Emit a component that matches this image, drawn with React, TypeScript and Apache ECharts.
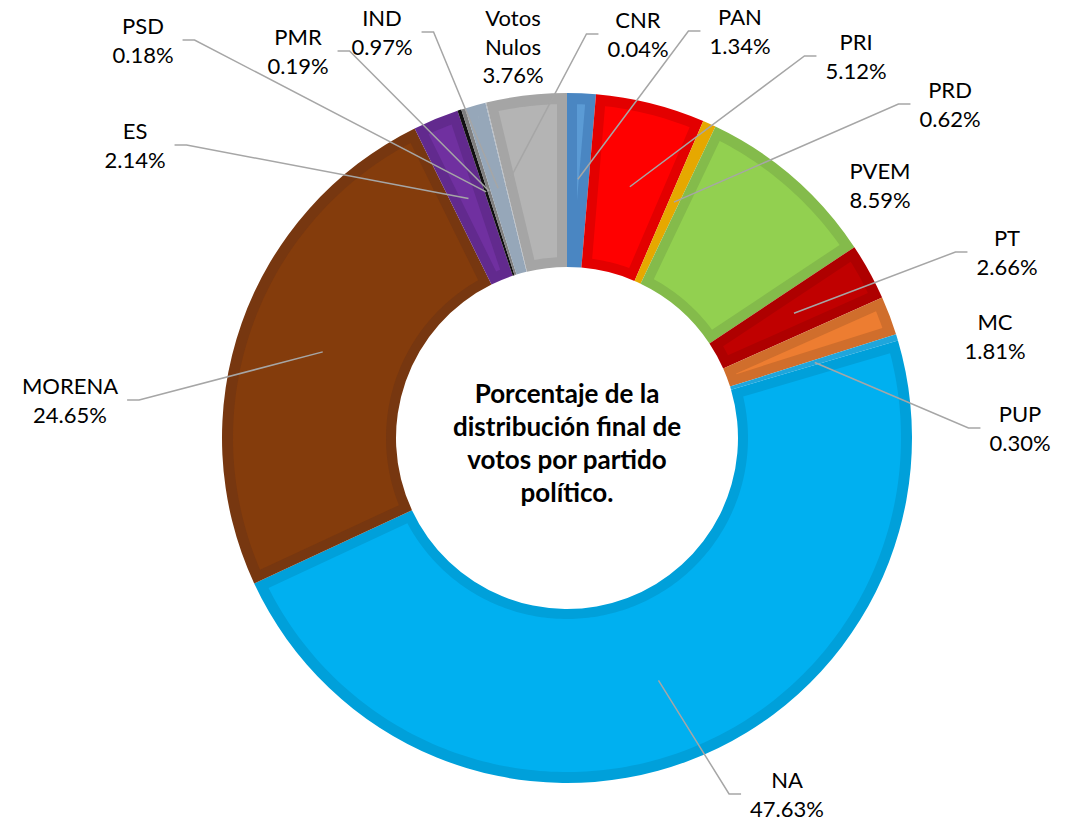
import React, { useEffect, useRef } from 'react';
import * as echarts from 'echarts';

const categories = ['PAN', 'PRI', 'PRD', 'PVEM', 'PT', 'MC', 'PUP', 'NA', 'MORENA', 'ES', 'PSD', 'PMR', 'IND', 'CNR', 'Votos Nulos'];
const values = [1.34, 5.12, 0.62, 8.59, 2.66, 1.81, 0.3, 47.63, 24.65, 2.14, 0.18, 0.19, 0.97, 0.04, 3.76];

const darkColors = ['#4A86C2', '#E30000', '#E6A800', '#84BB4B', '#AE0000', '#D06E2C', '#1FA6DC', '#00A0DA', '#773710', '#622A8E', '#111111', '#7F7F7F', '#96A7B9', '#B0B8C2', '#A5A5A5'];
const lightColors = ['#5B9BD5', '#FF0000', '#F0B000', '#92D050', '#C00000', '#ED7D31', '#5BC0EA', '#00B0F0', '#843C0C', '#7030A0', '#222222', '#8C8C8C', '#A3B2C4', '#B0B8C2', '#B4B4B4'];

const noLeaderLine = ['PVEM', 'MC', 'Votos Nulos'];

// label block centres (layout only)
const labelAnchors: [number, number][] = [
  [740, 31], [856, 56], [950, 104], [880, 185], [1007, 252], [995, 336], [1020, 428],
  [787, 794], [70, 400], [135, 145], [143, 40], [298, 51], [382, 32], [638, 34], [513, 46],
];

const centerTitle = 'Porcentaje de la\ndistribución final de\nvotos por partido\npolítico.';

const CX = 567;
const CY = 438;
const R0 = 171;
const R1 = 345;
const RMID = 259;
const GAP = 9;
const HOOK = 12;
const INSET = 10;

function titleGraphic() {
  return {
    id: 'title',
    type: 'text',
    x: CX,
    y: 442,
    z: 10,
    silent: true,
    style: {
      text: centerTitle,
      fontFamily: 'Lato',
      fontWeight: 'bold',
      fontSize: 26,
      lineHeight: 33,
      textAlign: 'center',
      textVerticalAlign: 'middle',
      fill: '#000000',
    },
  };
}

export default function App() {
  const ref = useRef<HTMLDivElement>(null);
  useEffect(() => {
    const chart = echarts.init(ref.current as HTMLDivElement, null, { renderer: 'svg' });
    const base = categories.map((name, i) => ({ name, value: values[i] }));
    chart.setOption({
      animation: false,
      backgroundColor: '#ffffff',
      graphic: [titleGraphic()],
      series: [
        {
          type: 'pie',
          z: 1,
          radius: [R0, R1],
          center: [CX, CY],
          silent: true,
          label: { show: false },
          labelLine: { show: false },
          itemStyle: { borderWidth: 0 },
          emphasis: { disabled: true },
          data: base.map((d, i) => ({ ...d, itemStyle: { color: darkColors[i] } })),
        },
        {
          type: 'pie',
          z: 3,
          radius: [R0, R1],
          center: [CX, CY],
          silent: true,
          avoidLabelOverlap: false,
          emphasis: { disabled: true },
          itemStyle: { borderWidth: 0, color: 'rgba(0,0,0,0)' },
          label: {
            show: true,
            position: 'outside',
            formatter: (p: any) => p.name.replace(' ', '\n') + '\n' + Number(p.value).toFixed(2) + '%',
            fontFamily: 'Lato',
            fontSize: 22,
            lineHeight: 28.5,
            color: '#000000',
            align: 'center',
          },
          labelLine: {
            show: true,
            showAbove: true,
            length: 10,
            length2: 10,
            lineStyle: { color: '#A6A6A6', width: 1.5 },
          },
          labelLayout: (params: any) => {
            const i = params.dataIndex;
            const [ax, ay] = labelAnchors[i];
            const w = params.labelRect.width;
            const res: any = { x: ax, y: ay, align: 'center', verticalAlign: 'middle' };
            const pts = params.labelLinePoints;
            if (pts && pts.length) {
              const dx = pts[0][0] - CX;
              const dy = pts[0][1] - CY;
              const len = Math.hypot(dx, dy) || 1;
              const sx = CX + (dx / len) * RMID;
              const sy = CY + (dy / len) * RMID;
              const right = ax > sx;
              const edge = right ? ax - w / 2 - GAP : ax + w / 2 + GAP;
              const bend = right ? edge - HOOK : edge + HOOK;
              res.labelLinePoints = [[sx, sy], [bend, ay], [edge, ay]];
            }
            return res;
          },
          data: base.map((d) => ({
            ...d,
            labelLine: { show: !noLeaderLine.includes(d.name) },
          })),
        },
      ],
    });

    // inner lighter panels, derived from the pie's own sector layout
    const polys: any[] = [];
    try {
      const data = (chart as any).getModel().getSeriesByIndex(0).getData();
      for (let i = 0; i < data.count(); i++) {
        const L = data.getItemLayout(i);
        if (!L) continue;
        const a0 = Math.min(L.startAngle, L.endAngle);
        const a1 = Math.max(L.startAngle, L.endAngle);
        const cx = L.cx;
        const cy = L.cy;
        const rin = L.r0 + INSET;
        const rout = L.r - INSET - 1;
        const half = (a1 - a0) / 2;
        const rStar = half < Math.PI / 2 ? INSET / Math.sin(half) : 0;
        if (rStar >= rout) continue;
        const pts: number[][] = [];
        const oa0 = a0 + Math.asin(INSET / rout);
        const oa1 = a1 - Math.asin(INSET / rout);
        const n = Math.max(2, Math.ceil(((oa1 - oa0) * 180) / Math.PI));
        for (let k = 0; k <= n; k++) {
          const a = oa0 + ((oa1 - oa0) * k) / n;
          pts.push([cx + rout * Math.cos(a), cy + rout * Math.sin(a)]);
        }
        if (rStar > rin) {
          const am = (a0 + a1) / 2;
          pts.push([cx + rStar * Math.cos(am), cy + rStar * Math.sin(am)]);
        } else {
          const ia0 = a0 + Math.asin(INSET / rin);
          const ia1 = a1 - Math.asin(INSET / rin);
          const m = Math.max(2, Math.ceil(((ia1 - ia0) * 180) / Math.PI));
          for (let k = 0; k <= m; k++) {
            const a = ia1 - ((ia1 - ia0) * k) / m;
            pts.push([cx + rin * Math.cos(a), cy + rin * Math.sin(a)]);
          }
        }
        polys.push({
          id: 'inset' + i,
          type: 'polygon',
          z: 2,
          silent: true,
          shape: { points: pts },
          style: { fill: lightColors[i], stroke: 'none' },
        });
      }
    } catch (e) {
      // ignore
    }
    chart.setOption({ graphic: [titleGraphic(), ...polys] });

    return () => chart.dispose();
  }, []);
  return <div ref={ref} style={{ position: 'fixed', left: 0, top: 0, width: 1080, height: 822 }} />;
}
